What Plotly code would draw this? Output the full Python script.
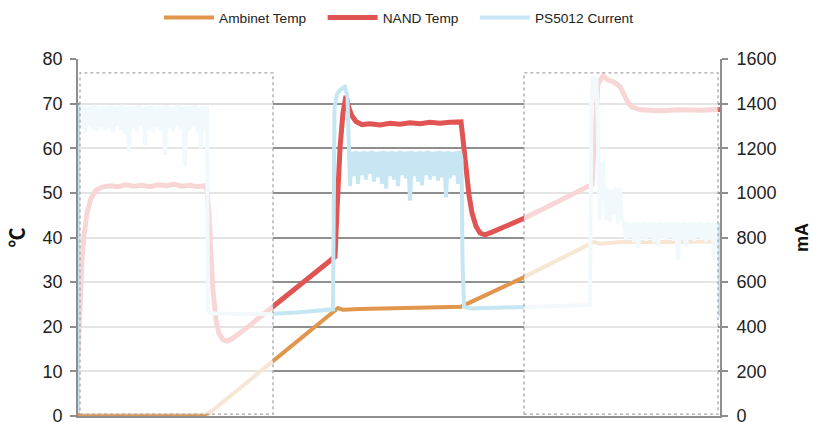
import plotly.graph_objects as go

# ---------------- data (time index in samples) ----------------
# NAND temperature (°C)
NAND_T = [0, 1, 2, 4, 6, 9, 13, 18, 24, 32, 40, 48, 56, 64, 72, 80, 88, 96, 104, 112, 120, 127,
          129, 131, 133, 135, 138, 141, 145, 149, 154, 162, 172, 182, 195, 212, 232, 257, 259, 262,
          265, 268, 271, 274, 278, 284, 292, 302, 312, 322, 332, 342, 352, 362, 372, 383, 385, 388,
          391, 394, 398, 402, 407, 414, 422, 432, 445, 467, 492, 514, 516, 518, 520, 525, 530, 536,
          542, 546, 550, 554, 562, 582, 602, 622, 642]
NAND_C = [13.5, 20, 27, 35, 40.5, 45.5, 48.8, 50.6, 51.3, 51.6, 51.4, 51.8, 51.5, 51.7, 51.4, 51.8,
          51.6, 51.9, 51.5, 51.7, 51.4, 51.6, 50.5, 45, 36, 28, 21.5, 18.5, 17.1, 16.8, 17.3, 18.6,
          20.3, 22.2, 24.5, 27.6, 31.2, 35.7, 46, 60, 68, 71.7, 69, 67.2, 66, 65.3, 65.5, 65.2, 65.6,
          65.4, 65.7, 65.5, 65.8, 65.6, 65.8, 65.9, 62, 55, 49.5, 45.5, 42.5, 41, 40.6, 41.2, 41.9,
          42.8, 44.2, 46.6, 49.5, 51.9, 60, 70, 74.5, 76.2, 75.3, 74.8, 73.8, 72, 70.2, 69.2, 68.6,
          68.4, 68.6, 68.5, 68.7]

# Ambient temperature (°C)
AMB_T = [0, 125, 130, 136, 260, 265, 282, 322, 362, 383, 445, 516, 522, 542, 582, 642]
AMB_C = [0.2, 0.3, 0.6, 1.5, 24.2, 23.8, 24.0, 24.2, 24.3, 24.5, 31.0, 39.0, 38.6, 39.0, 39.0, 39.1]

# PS5012 current (mA)
CUR_T = [0, 0.5,
         1, 3, 5, 7, 9, 11, 13, 15, 17, 19, 21, 23, 25, 27, 29, 31, 33, 35, 37, 39, 41, 43, 45, 47,
         49, 51, 53, 55, 57, 59, 61, 63, 65, 67, 69, 71, 73, 75, 77, 79, 81, 83, 85, 87, 89, 91, 93,
         95, 97, 99, 101, 103, 105, 107, 109, 111, 113, 115, 117, 119, 121, 123, 125, 127, 129,
         130, 134, 160, 195, 222, 255,
         256.5, 259, 263, 267, 269.5, 271,
         272, 274, 276, 278, 280, 282, 284, 286, 288, 290, 292, 294, 296, 298, 300, 302, 304, 306,
         308, 310, 312, 314, 316, 318, 320, 322, 324, 326, 328, 330, 332, 334, 336, 338, 340, 342,
         344, 346, 348, 350, 352, 354, 356, 358, 360, 362, 364, 366, 368, 370, 372, 374, 376, 378,
         380, 382, 383.5,
         384.5, 386, 392, 422, 445, 482, 512,
         513.5, 515, 518.5, 520, 522, 523, 525, 526, 528, 530, 532, 534, 536, 538, 540, 542, 544,
         545.5,
         546, 548, 550, 552, 554, 556, 558, 560, 562, 564, 566, 568, 570, 572, 574, 576, 578, 580,
         582, 584, 586, 588, 590, 592, 594, 596, 598, 600, 602, 604, 606, 608, 610, 612, 614, 616,
         618, 620, 622, 624, 626, 628, 630, 632, 634, 636, 638, 640, 641, 642]
CUR_MA = [15, 1390,
          1388, 1290, 1392, 1270, 1385, 1300, 1390, 1285, 1394, 1275, 1386, 1295, 1390, 1280, 1388,
          1290, 1392, 1270, 1385, 1300, 1390, 1280, 1394, 1265, 1386, 1185, 1390, 1290, 1388, 1275,
          1392, 1300, 1385, 1215, 1390, 1285, 1394, 1270, 1386, 1295, 1390, 1280, 1388, 1170, 1392,
          1290, 1385, 1275, 1390, 1300, 1394, 1285, 1386, 1120, 1390, 1280, 1388, 1295, 1392, 1270,
          1385, 1200, 1390, 1285, 1388,
          470, 460, 457, 458, 465, 478,
          1380, 1445, 1465, 1475, 1430, 1190,
          1030, 1185, 1075, 1188, 1040, 1184, 1080, 1187, 1060, 1185, 1085, 1189, 1050, 1184, 1070,
          1186, 1040, 1188, 1020, 1185, 1075, 1187, 1060, 1184, 1030, 1189, 1080, 1185, 1065, 1186,
          965, 1188, 1075, 1184, 1050, 1187, 1035, 1185, 1080, 1189, 1060, 1184, 1075, 1186, 1055,
          1188, 1070, 1185, 980, 1187, 1065, 1184, 1080, 1186, 1040, 1188, 1150,
          700, 490, 482, 485, 490, 493, 497,
          1400, 1515, 1510, 1140, 880, 1130, 1135, 1020, 880, 1020, 870, 1015, 900, 1025, 860, 1020,
          880, 865,
          865, 790, 868, 800, 864, 780, 867, 755, 865, 795, 868, 785, 864, 800, 866, 780, 865, 760,
          868, 795, 864, 790, 866, 800, 865, 785, 867, 700, 864, 790, 868, 760, 865, 795, 866, 785,
          864, 800, 867, 790, 865, 780, 868, 795, 864, 700, 866, 790, 865, 445]

Y1_TICKS = [0, 10, 20, 30, 40, 50, 60, 70, 80]
Y2_TICKS = [0, 200, 400, 600, 800, 1000, 1200, 1400, 1600]

# faded (highlight-off) windows, in time units
FADE_WINDOWS = [(2, 195), (446, 640)]
FADE_TOP = 76.9

# ---------------- styles ----------------
ORANGE = "#E0964C"
RED = "#E05454"
BLUE = "#C5E6F2"
GRID = "#8e8e8e"
FONT = "Liberation Sans, Arial, sans-serif"
PAD = "\u00a0\u00a0\u00a0"

fig = go.Figure()
# drawing order: current (bottom), ambient, NAND (top); legend order via legendrank
fig.add_trace(go.Scatter(x=CUR_T, y=CUR_MA, mode="lines", name="PS5012 Current",
                         line=dict(color=BLUE, width=4), yaxis="y2", legendrank=3))
fig.add_trace(go.Scatter(x=AMB_T, y=AMB_C, mode="lines", name="Ambinet Temp" + PAD,
                         line=dict(color=ORANGE, width=4), yaxis="y", legendrank=1))
fig.add_trace(go.Scatter(x=NAND_T, y=NAND_C, mode="lines", name="NAND Temp" + PAD,
                         line=dict(color=RED, width=5), yaxis="y", legendrank=2))

for x0, x1 in FADE_WINDOWS:
    fig.add_shape(type="rect", xref="x", yref="y", x0=x0, x1=x1, y0=0.4, y1=FADE_TOP,
                  fillcolor="rgba(255,255,255,0.76)",
                  line=dict(color="#a6a6a6", width=1.3, dash="dot"), layer="above")

axis_common = dict(showline=True, linecolor=GRID, linewidth=1.6, ticks="outside", ticklen=6,
                   tickcolor=GRID, tickwidth=1.6, zeroline=False, ticklabeloverflow="allow",
                   automargin=False,
                   tickfont=dict(family=FONT, size=18, color="#222"))

fig.update_layout(
    width=813, height=422,
    margin=dict(l=78, r=93, t=59, b=6, autoexpand=False),
    paper_bgcolor="white", plot_bgcolor="white",
    showlegend=True,
    legend=dict(orientation="h", x=0.5, xanchor="center", yref="container", y=0.995,
                yanchor="top", font=dict(family=FONT, size=13.7, color="#222"),
                itemwidth=50),
    xaxis=dict(range=[0, 642], showgrid=False, showticklabels=False, ticks="", showline=True,
               linecolor=GRID, linewidth=1.6, zeroline=False, automargin=False),
    yaxis=dict(range=[0, 80], tickvals=Y1_TICKS, showgrid=True, gridcolor=GRID, gridwidth=1.8,
               ticklabelstandoff=4,
               title=dict(text="℃", standoff=12,
                          font=dict(family="Noto Sans CJK SC", size=20, color="#111",
                                    weight="bold")),
               **axis_common),
    yaxis2=dict(range=[0, 1600], tickvals=Y2_TICKS, overlaying="y", side="right", showgrid=False,
                ticklabelstandoff=5,
                title=dict(text="mA", standoff=20,
                           font=dict(family=FONT, size=18, color="#111", weight="bold")),
                **axis_common),
)

fig.write_html("out.html")
